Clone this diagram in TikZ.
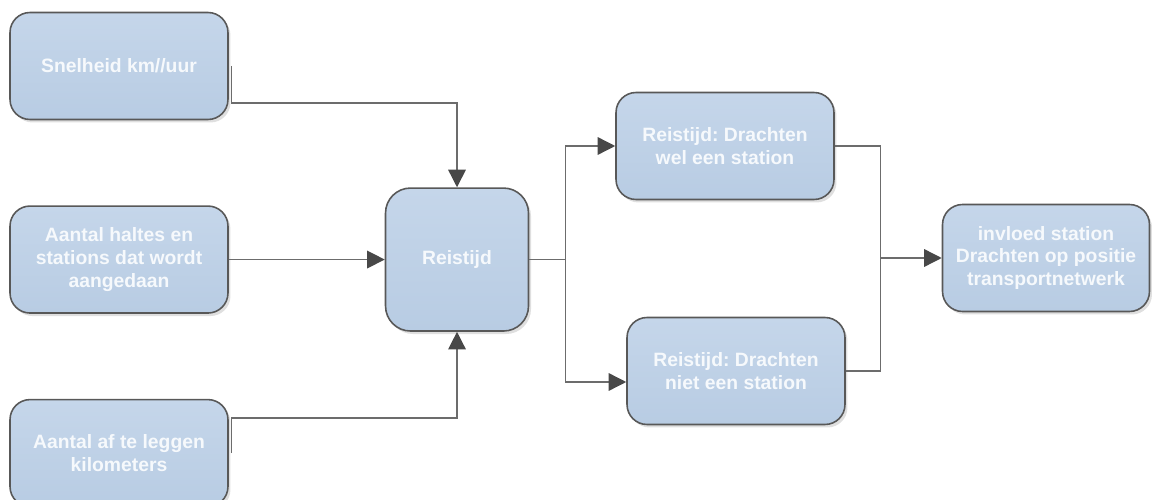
\documentclass[tikz,border=0pt]{standalone}
\usepackage{fontspec}
\setmainfont{Liberation Sans}
\usetikzlibrary{positioning,arrows.meta,shadows}
\frenchspacing

\definecolor{boxfill}{RGB}{184,204,227}
\definecolor{boxtop}{RGB}{197,214,234}
\definecolor{boxline}{RGB}{88,88,88}
\definecolor{linkgray}{RGB}{108,108,108}
\definecolor{tipgray}{RGB}{72,72,72}
\definecolor{labelwhite}{RGB}{246,249,252}

\begin{document}
\begin{tikzpicture}[
x=0.02cm, y=-0.02cm,
inbox/.style={rectangle, rounded corners=0.4cm, draw=boxline, line width=0.9pt, top color=boxtop, bottom color=boxfill, minimum width=4.36cm, minimum height=2.14cm, align=center, text=labelwhite, font=\fontsize{11}{13}\selectfont\bfseries, drop shadow={opacity=0.25, shadow xshift=0.05cm, shadow yshift=-0.06cm}},
hubbox/.style={inbox, minimum width=2.86cm, minimum height=2.86cm, rounded corners=0.5cm},
link/.style={draw=linkgray, line width=0.8pt},
tip/.style={link, -{Triangle[length=10pt, width=10pt, color=tipgray]}},
]
\useasboundingbox (0,0) rectangle (1153,500);

%Nodes
\node[inbox]                          (speed) at (119,66) {Snelheid km//uur};
\node[inbox, below=1.7cm of speed]    (stops)  {Aantal haltes en\\ stations dat wordt\\ aangedaan};
\node[inbox, below=1.7cm of stops]    (dist)   {Aantal af te leggen\\ kilometers};
\node[hubbox, right=3.12cm of stops]  (time)   {Reistijd};

\node[inbox]                          (with)    at (725,146) {Reistijd: Drachten\\ wel een station};
\node[inbox]                          (without) at (736,371) {Reistijd: Drachten\\ niet een station};
\node[inbox, minimum width=4.14cm]    (impact)  at (1046,258) {invloed station\\ Drachten op positie\\ transportnetwerk};

\coordinate (speedout) at ([xshift=0.06cm]speed.east);
\coordinate (distout)  at ([xshift=0.06cm]dist.east);
\coordinate (split)    at ([xshift=0.72cm]time.east);
\coordinate (join)     at ([xshift=-1.22cm]impact.west);

%Lines
\draw[tip] (speedout) -- ++(0,37) -| (time.north);
\draw[tip] (stops.east) -- (time.west);
\draw[tip] (distout) -- ++(0,-35) -| (time.south);

\draw[link] (time.east) -- (split);
\draw[tip] (split) |- (with.west);
\draw[tip] (split) |- ([yshift=-0.22cm]without.west);

\draw[link] (with.east) -| (join);
\draw[link] (without.east) -| (join);
\draw[tip] (join) -- (impact.west);

\end{tikzpicture}
\end{document}
